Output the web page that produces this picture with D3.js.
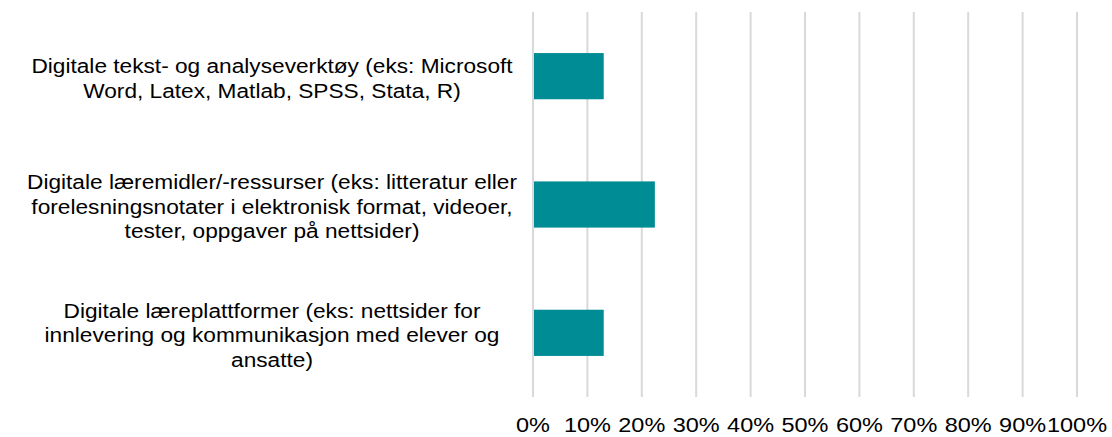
<!DOCTYPE html>
<html>
<head>
<meta charset="utf-8">
<script src="https://cdn.jsdelivr.net/npm/d3@7.9.0/dist/d3.min.js"></script>
<style>
  body { margin: 0; background: #fff; }
  svg text { font-family: "Liberation Sans", Arial, sans-serif; fill: #000; }
</style>
</head>
<body>
<svg id="chart" width="1112" height="437"></svg>
<script>
// category labels, already broken into lines as in the picture
const categories = [
  ['Digitale tekst- og analyseverktøy (eks: Microsoft', 'Word, Latex, Matlab, SPSS, Stata, R)'],
  ['Digitale læremidler/-ressurser (eks: litteratur eller', 'forelesningsnotater i elektronisk format, videoer,', 'tester, oppgaver på nettsider)'],
  ['Digitale læreplattformer (eks: nettsider for', 'innlevering og kommunikasjon med elever og', 'ansatte)']
];
const values = [0.13, 0.224, 0.13];
const ticks = [0, 0.1, 0.2, 0.3, 0.4, 0.5, 0.6, 0.7, 0.8, 0.9, 1.0];

const svg = d3.select('#chart');
const margin = { top: 12, right: 35, bottom: 40, left: 533 };
const width = 1112 - margin.left - margin.right;
const height = 437 - margin.top - margin.bottom;

const g = svg.append('g').attr('transform', `translate(${margin.left},${margin.top})`);

const x = d3.scaleLinear().domain([0, 1]).range([0, width]);
const y = d3.scaleBand().domain(d3.range(categories.length)).range([0, height]).paddingInner(0.64).paddingOuter(0.32);

// gridlines
g.selectAll('.grid')
  .data(ticks)
  .join('line')
  .attr('x1', d => x(d)).attr('x2', d => x(d))
  .attr('y1', 0).attr('y2', height)
  .attr('stroke', '#d9d9d9')
  .attr('stroke-width', 2);

// bars
g.selectAll('.bar')
  .data(values)
  .join('rect')
  .attr('x', x(0) + 1)
  .attr('y', (d, i) => y(i))
  .attr('width', d => x(d) - x(0) - 1)
  .attr('height', y.bandwidth())
  .attr('fill', '#008c95');

// x tick labels (the picture is a bit wider than tall, so stretch text)
g.selectAll('.tick-label')
  .data(ticks)
  .join('text')
  .attr('transform', d => `translate(${x(d)},${height + 35}) scale(1.12,1)`)
  .attr('text-anchor', 'middle')
  .attr('font-size', 21)
  .text(d => d3.format('.0%')(d));

// category labels
const lineH = 24.4;
categories.forEach((lines, i) => {
  const cy = margin.top + y(i) + y.bandwidth() / 2 + 2;
  const t = svg.append('text')
    .attr('text-anchor', 'middle')
    .attr('font-size', 21)
    .attr('transform', `translate(272,${cy}) scale(1.08,1)`);
  lines.forEach((line, j) => {
    t.append('tspan')
      .attr('x', 0)
      .attr('y', (j - (lines.length - 1) / 2) * lineH)
      .attr('dy', '0.35em')
      .text(line);
  });
});
</script>
</body>
</html>
